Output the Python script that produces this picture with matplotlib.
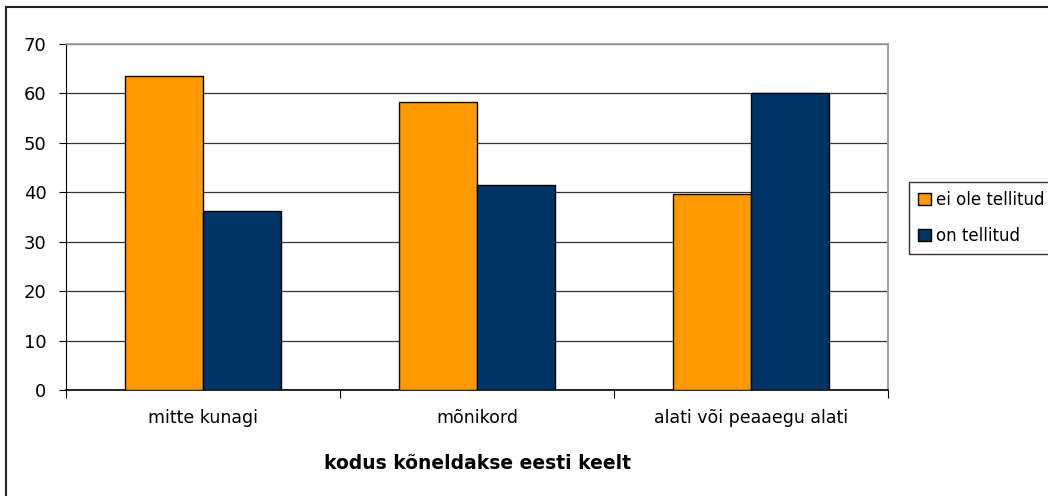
import matplotlib
matplotlib.use('Agg')

import matplotlib.pyplot as plt
import numpy as np
from matplotlib.lines import Line2D

categories = ["mitte kunagi", "mõnikord", "alati või peaaegu alati"]
ei_ole = [63.5, 58.2, 39.6]
on_tellitud = [36.2, 41.5, 60.1]
series_names = ["ei ole tellitud", "on tellitud"]
colors = ["#ff9900", "#003366"]

plt.rcParams['font.family'] = ['DejaVu Sans']

fig = plt.figure(figsize=(10.48, 4.96), dpi=100)
ax = fig.add_axes([66 / 1048, 106 / 496, 822 / 1048, 346 / 496])

x = np.arange(len(categories))
w = 0.2857
b1 = ax.bar(x - w / 2, ei_ole, w, color=colors[0], edgecolor="black", linewidth=1, zorder=3,
            label=series_names[0])
b2 = ax.bar(x + w / 2, on_tellitud, w, color=colors[1], edgecolor="black", linewidth=1, zorder=3,
            label=series_names[1])

ax.set_xlim(-0.5, 2.5)
ax.set_ylim(0, 70)
ax.set_yticks(range(0, 71, 10))
ax.yaxis.grid(True, color="#333333", linewidth=0.9, zorder=0)

# category labels between boundary ticks
ax.set_xticks([-0.5, 0.5, 1.5, 2.5])
ax.set_xticklabels([])
ax.set_xticks(x, minor=True)
ax.set_xticklabels(categories, minor=True)
ax.tick_params(axis="x", which="major", length=6, width=0.8, direction="out")
ax.tick_params(axis="x", which="minor", length=0, pad=14, labelsize=12.5)
ax.tick_params(axis="y", length=5, width=0.8, pad=9, labelsize=13)

ax.spines["left"].set_color("black")
ax.spines["bottom"].set_color("black")
ax.spines["bottom"].set_linewidth(1.2)
ax.spines["top"].set_color("#a0a0a0")
ax.spines["right"].set_color("#a0a0a0")
ax.spines["top"].set_linewidth(1.2)
ax.spines["right"].set_linewidth(1.5)

ax.set_xlabel("kodus kõneldakse eesti keelt", fontsize=13.5, fontweight="bold", labelpad=19)

leg = fig.legend(handles=[b1, b2], loc="upper left", bbox_to_anchor=(909 / 1048, 1 - 182 / 496),
                 frameon=True, fancybox=False, edgecolor="black", fontsize=12,
                 handlelength=0.75, handleheight=0.75, handletextpad=0.35, borderpad=0.55,
                 labelspacing=1.05, borderaxespad=0)
leg.get_frame().set_linewidth(1)

# outer chart border (left and top visible)
fig.add_artist(Line2D([6 / 1048, 6 / 1048], [0, 1 - 7 / 496], color="#222222", linewidth=1.5,
                      transform=fig.transFigure))
fig.add_artist(Line2D([6 / 1048, 1], [1 - 7 / 496, 1 - 7 / 496], color="#222222", linewidth=1.5,
                      transform=fig.transFigure))

fig.savefig("out.png", dpi=100)
